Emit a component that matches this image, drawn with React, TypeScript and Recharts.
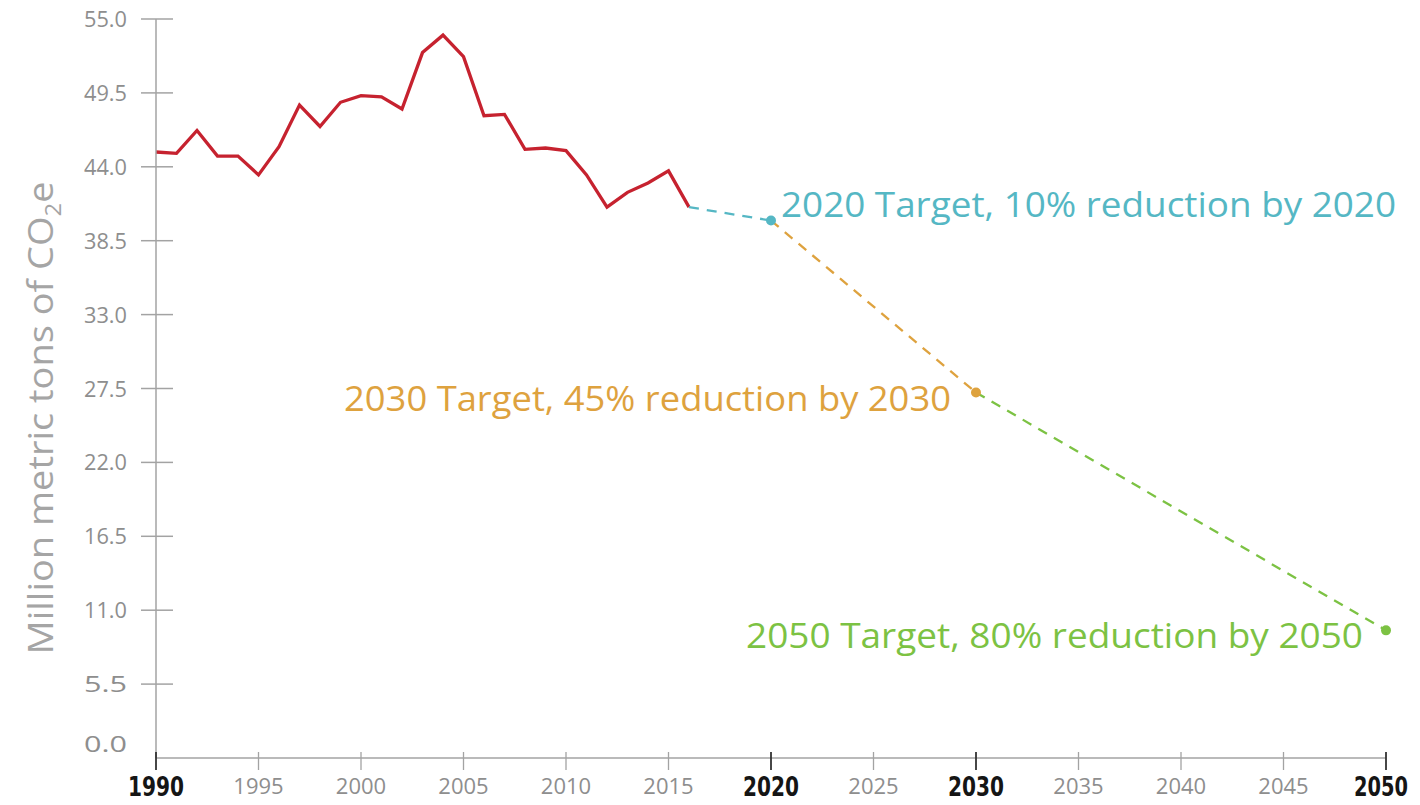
import React from "react";
import { LineChart, Line, XAxis, YAxis, ReferenceDot, Customized } from "recharts";

// emissions history, million metric tons CO2e
const historyYears = [
    1990, 1991, 1992, 1993, 1994, 1995, 1996, 1997, 1998, 1999, 2000, 2001, 2002, 2003,
    2004, 2005, 2006, 2007, 2008, 2009, 2010, 2011, 2012, 2013, 2014, 2015, 2016,
];
const historyValues = [
    45.1, 45.0, 46.7, 44.8, 44.8, 43.4, 45.5, 48.6, 47.0, 48.8, 49.3, 49.2, 48.3, 52.5,
    53.8, 52.2, 47.8, 47.9, 45.3, 45.4, 45.2, 43.4, 41.0, 42.1, 42.8, 43.7, 41.0,
];

const targetYears = [2020, 2030, 2050];
const targetValues = [40.0, 27.2, 9.5];
const targetLabels = [
    "2020 Target, 10% reduction by 2020",
    "2030 Target, 45% reduction by 2030",
    "2050 Target, 80% reduction by 2050",
];

const yTicks = [0, 5.5, 11, 16.5, 22, 27.5, 33, 38.5, 44, 49.5, 55];
const xTicks = [1990, 1995, 2000, 2005, 2010, 2015, 2020, 2025, 2030, 2035, 2040, 2045, 2050];
const boldYears = [1990, 2020, 2030, 2050];

const RED = "#c6222f";
const TARGET_COLORS = ["#55b7c4", "#dea23e", "#7cc243"];
const AXIS = "#a3a3a3";
const TICK_TEXT = "#8e8e8e";
const FONT = "'Open Sans', 'Noto Sans', sans-serif";
const NARROW = "'Liberation Sans Narrow', 'DejaVu Sans Condensed', 'Roboto', sans-serif";

// where each label sits relative to its dot
const labelPlacement = [
    { dx: 10, dy: -4, anchor: "start", length: 615 },
    { dx: -25, dy: 18, anchor: "end", length: 607 },
    { dx: -23, dy: 18, anchor: "end", length: 617 },
];

const history = historyYears.map((year, i) => ({ year, value: historyValues[i] }));
const lastHistory = history[history.length - 1];
const targets = targetYears.map((year, i) => ({ year, value: targetValues[i] }));
const segments = [
    [lastHistory, targets[0]],
    [targets[0], targets[1]],
    [targets[1], targets[2]],
];

function YTick({ x, y, payload }: any) {
    const v = payload.value as number;
    return (
        <g>
            {v !== 0 && <line x1={x - 15} x2={x + 17} y1={y} y2={y} stroke={AXIS} strokeWidth={1.5} />}
            <text x={x - 29} y={v === 0 ? y - 6 : y + 8} textAnchor="end" fontSize={21} fill={TICK_TEXT} fontFamily={FONT}
                textLength={43} lengthAdjust="spacingAndGlyphs">
                {v.toFixed(1)}
            </text>
        </g>
    );
}

function XTick({ x, y, payload }: any) {
    const bold = boldYears.includes(payload.value);
    // last label is pinned by its right edge so it stays inside the frame
    const isLast = payload.value === xTicks[xTicks.length - 1];
    return (
        <g>
            <line x1={x} x2={x} y1={y - 6} y2={y + 12} stroke={bold ? "#333" : AXIS} strokeWidth={bold ? 1.8 : 1.3} />
            {bold ? (
                <text x={isLast ? x + 22 : x} y={y + 38} textAnchor={isLast ? "end" : "middle"} fontSize={26} fontWeight="bold"
                    fill="#151515" fontFamily={NARROW} textLength={isLast ? 54 : 56} lengthAdjust="spacingAndGlyphs">
                    {payload.value}
                </text>
            ) : (
                <text x={x} y={y + 36} textAnchor="middle" fontSize={22} fill={TICK_TEXT} fontFamily={FONT}>
                    {payload.value}
                </text>
            )}
        </g>
    );
}

function YTitle() {
    return (
        <text x={53} y={418} transform="rotate(-90, 53, 418)" textAnchor="middle" fontSize={35} fill="#a5a5a5"
            fontFamily={FONT} textLength={473} lengthAdjust="spacingAndGlyphs">
            Million metric tons of  CO<tspan fontSize={22} dy={8}>2</tspan><tspan dy={-8}>e</tspan>
        </text>
    );
}

function targetShape(i: number) {
    return (p: any) => {
        const place = labelPlacement[i];
        return (
            <g>
                <circle cx={p.cx} cy={p.cy} r={5} fill={TARGET_COLORS[i]} />
                <text x={p.cx + place.dx} y={p.cy + place.dy} textAnchor={place.anchor} fontSize={34}
                    fill={TARGET_COLORS[i]} fontFamily={FONT} textLength={place.length} lengthAdjust="spacingAndGlyphs">
                    {targetLabels[i]}
                </text>
            </g>
        );
    };
}

export default function App() {
    return (
        <div style={{ position: "absolute", left: 0, top: 0, width: 1420, height: 805, background: "#fff" }}>
            <LineChart width={1420} height={805} margin={{ top: 19, right: 34, left: 56, bottom: 7 }}>
                <XAxis
                    type="number"
                    dataKey="year"
                    domain={[1990, 2050]}
                    ticks={xTicks}
                    height={40}
                    tickSize={0}
                    tickMargin={0}
                    tickLine={false}
                    axisLine={{ stroke: AXIS, strokeWidth: 1.5 }}
                    tick={<XTick />}
                    interval={0}
                />
                <YAxis
                    type="number"
                    domain={[0, 55]}
                    ticks={yTicks}
                    width={100}
                    tickSize={0}
                    tickMargin={0}
                    tickLine={false}
                    axisLine={{ stroke: AXIS, strokeWidth: 1.5 }}
                    tick={<YTick />}
                    interval={0}
                />
                <Line
                    data={history}
                    dataKey="value"
                    type="linear"
                    stroke={RED}
                    strokeWidth={3.3}
                    dot={false}
                    isAnimationActive={false}
                />
                {segments.map((seg, i) => (
                    <Line
                        key={i}
                        data={seg}
                        dataKey="value"
                        type="linear"
                        stroke={TARGET_COLORS[i]}
                        strokeWidth={2.3}
                        strokeDasharray="10 8"
                        dot={false}
                        isAnimationActive={false}
                    />
                ))}
                {targets.map((t, i) => (
                    <ReferenceDot key={t.year} x={t.year} y={t.value} r={5} shape={targetShape(i)} />
                ))}
                <Customized component={<YTitle />} />
            </LineChart>
        </div>
    );
}
